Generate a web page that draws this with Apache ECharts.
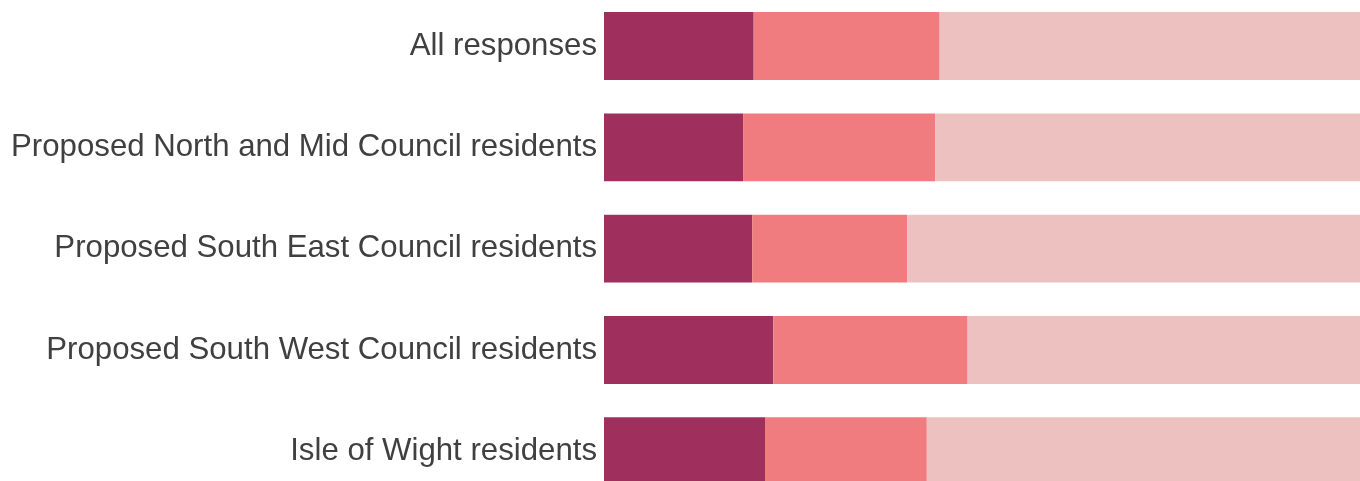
<!DOCTYPE html>
<html>
<head>
<meta charset="utf-8">
<script src="https://cdn.jsdelivr.net/npm/echarts@6/dist/echarts.min.js"></script>
<style>
html,body{margin:0;padding:0;background:#fff;}
#chart{width:1360px;height:481px;}
</style>
</head>
<body>
<div id="chart"></div>
<script>
const categories = [
  "All responses",
  "Proposed North and Mid Council residents",
  "Proposed South East Council residents",
  "Proposed South West Council residents",
  "Isle of Wight residents"
];
const seriesA = [19.8, 18.4, 19.6, 22.4, 21.3];
const seriesB = [24.6, 25.4, 20.5, 25.7, 21.4];
const seriesC = [55.6, 56.2, 59.9, 51.9, 57.3];
const colors = ["#9F305E", "#F07C80", "#EEC1C1"];

const chart = echarts.init(document.getElementById('chart'), null, {renderer: 'canvas'});
const mk = (name, data, i) => ({
  name, type: 'bar', stack: 'total', data,
  barCategoryGap: '33%',
  itemStyle: {color: colors[i]},
  emphasis: {disabled: true},
  animation: false
});
chart.setOption({
  animation: false,
  grid: {left: 604, right: 0, top: -4.6, height: 506.5, containLabel: false, outerBoundsMode: 'none'},
  xAxis: {type: 'value', min: 0, max: 100, show: false},
  yAxis: {
    type: 'category', data: categories, inverse: true,
    axisLine: {show: false}, axisTick: {show: false},
    axisLabel: {color: '#404040', fontSize: 31.2, fontFamily: 'Liberation Sans', margin: 7, padding: [3, 0, 0, 0]}
  },
  series: [mk('A', seriesA, 0), mk('B', seriesB, 1), mk('C', seriesC, 2)]
});
</script>
</body>
</html>
